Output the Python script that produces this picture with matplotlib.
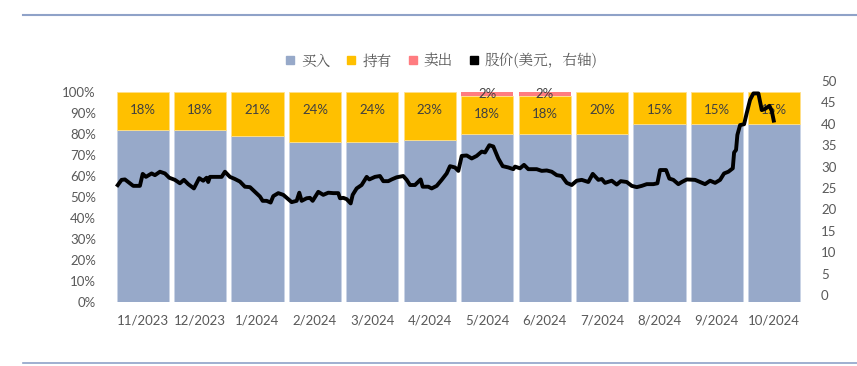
import matplotlib
matplotlib.use("Agg")
import matplotlib.pyplot as plt
from matplotlib.lines import Line2D
import numpy as np

# ---------------- data ----------------
months = ["11/2023", "12/2023", "1/2024", "2/2024", "3/2024", "4/2024",
          "5/2024", "6/2024", "7/2024", "8/2024", "9/2024", "10/2024"]
buy = [0.82, 0.82, 0.79, 0.76, 0.76, 0.77, 0.80, 0.80, 0.80, 0.85, 0.85, 0.85]
hold = [0.18, 0.18, 0.21, 0.24, 0.24, 0.23, 0.18, 0.18, 0.20, 0.15, 0.15, 0.15]
sell = [0.00, 0.00, 0.00, 0.00, 0.00, 0.00, 0.02, 0.02, 0.00, 0.00, 0.00, 0.00]

# price time position (in month units, 0 = centre of 11/2023) and price (USD)
price_t = [-0.455, -0.368, -0.31, -0.223, -0.165, -0.049, 0.0, 0.056, 0.155, 0.213,
           0.30, 0.387, 0.462, 0.561, 0.648, 0.718, 0.793, 0.892, 0.984, 1.054,
           1.113, 1.141, 1.171, 1.287, 1.375, 1.432, 1.519, 1.606, 1.693, 1.78,
           1.868, 1.955, 2.042, 2.089, 2.158, 2.228, 2.274, 2.361, 2.448, 2.535,
           2.594, 2.681, 2.727, 2.768, 2.855, 2.913, 2.96, 3.058, 3.145, 3.232,
           3.319, 3.406, 3.436, 3.493, 3.552, 3.622, 3.657, 3.726, 3.813, 3.901,
           3.946, 4.045, 4.132, 4.19, 4.277, 4.336, 4.423, 4.538, 4.598, 4.655,
           4.742, 4.841, 4.876, 4.974, 5.033, 5.12, 5.207, 5.294, 5.352, 5.439,
           5.497, 5.556, 5.643, 5.73, 5.817, 5.904, 5.962, 6.037, 6.106, 6.193,
           6.27, 6.367, 6.455, 6.484, 6.571, 6.641, 6.716, 6.862, 6.949, 7.037,
           7.124, 7.211, 7.298, 7.385, 7.472, 7.559, 7.646, 7.761, 7.838, 7.936,
           7.995, 8.052, 8.169, 8.256, 8.326, 8.43, 8.517, 8.605, 8.692, 8.779,
           8.894, 8.964, 9.01, 9.115, 9.172, 9.242, 9.329, 9.389, 9.476, 9.62,
           9.707, 9.794, 9.882, 9.969, 10.056, 10.125, 10.2, 10.277, 10.3, 10.334,
           10.357, 10.404, 10.474, 10.52, 10.578, 10.636, 10.723, 10.782, 10.84, 10.915,
           10.956, 10.997]
price = [25.3, 26.9, 27.0, 26.1, 25.5, 25.5, 28.3, 27.6, 28.4, 28.0,
         28.8, 28.4, 27.4, 26.9, 26.1, 26.9, 25.9, 24.9, 27.3, 26.7,
         27.4, 26.4, 27.6, 27.6, 27.6, 28.8, 27.6, 27.1, 26.5, 25.3,
         25.2, 24.1, 23.0, 22.0, 22.0, 21.6, 23.1, 23.8, 23.4, 22.4,
         21.7, 22.0, 23.9, 22.0, 22.6, 22.7, 22.0, 24.1, 23.4, 23.9,
         23.8, 23.8, 22.6, 22.7, 22.4, 21.4, 23.4, 24.9, 25.7, 27.6,
         27.0, 27.6, 27.8, 26.6, 26.6, 27.0, 27.5, 27.8, 26.9, 25.7,
         25.7, 27.0, 25.3, 25.3, 24.9, 25.5, 26.9, 28.4, 30.1, 29.8,
         29.0, 32.5, 32.6, 31.9, 32.5, 33.5, 33.3, 35.0, 34.7, 31.9,
         30.1, 29.8, 29.4, 30.0, 29.6, 30.4, 29.4, 29.4, 29.0, 29.1,
         28.8, 28.0, 27.8, 26.2, 25.7, 26.7, 26.9, 26.4, 28.3, 26.9,
         27.1, 26.2, 26.7, 25.8, 26.6, 26.4, 25.5, 25.2, 25.5, 25.9,
         25.9, 26.1, 29.2, 29.2, 27.2, 26.9, 25.9, 26.4, 27.0, 26.9,
         26.4, 25.9, 26.7, 26.2, 26.9, 28.4, 28.8, 29.6, 33.3, 33.9,
         37.4, 39.7, 39.9, 42.5, 45.6, 47.1, 47.1, 43.2, 43.5, 44.2,
         43.0, 40.3]

legend_labels = ["买入", "持有", "卖出", "股价(美元，右轴)"]
left_ticks = [0, 0.1, 0.2, 0.3, 0.4, 0.5, 0.6, 0.7, 0.8, 0.9, 1.0]
right_ticks = [0, 5, 10, 15, 20, 25, 30, 35, 40, 45, 50]

# ---------------- style ----------------
C_BUY = "#97A9C9"
C_HOLD = "#FFC000"
C_SELL = "#FF7C80"
C_TXT = "#595959"
C_LBL = "#404040"
C_RULE = "#8FA2C8"
FONT = ["Lato", "DejaVu Sans"]
CJK = ["Noto Serif CJK SC", "Noto Sans CJK SC", "DejaVu Sans"]

W, H = 857, 366
fig = plt.figure(figsize=(W / 100, H / 100), dpi=100)

x = np.arange(len(months))
ax = fig.add_axes([114 / W, 64 / H, 689 / W, 210 / H])
ax.bar(x, buy, width=0.91, color=C_BUY, edgecolor="#C9D3E6", linewidth=0.6, zorder=2)
ax.bar(x, hold, width=0.91, bottom=buy, color=C_HOLD, edgecolor="#FFE08A", linewidth=0.6, zorder=2)
sell_bottom = [b + h for b, h in zip(buy, hold)]
ax.bar(x, sell, width=0.91, bottom=sell_bottom, color=C_SELL, linewidth=0, zorder=2)

for i in range(len(months)):
    top = buy[i] + hold[i]
    ax.text(x[i], top - 0.085, f"{round(hold[i]*100)}%", ha="center", va="center",
            fontsize=9.5, color=C_LBL, family=FONT, zorder=3)
    if sell[i] > 0:
        ax.text(x[i], top + sell[i] / 2, f"{round(sell[i]*100)}%", ha="center", va="center",
                fontsize=9.5, color=C_LBL, family=FONT, zorder=3)

ax.set_xlim(-0.5, len(months) - 0.5)
ax.set_ylim(0, 1.0)
ax.set_yticks(left_ticks)
ax.set_yticklabels([f"{int(round(t*100))}%" for t in left_ticks])
ax.set_xticks(x)
ax.set_xticklabels(months)
for s in ax.spines.values():
    s.set_visible(False)
ax.tick_params(axis="both", length=0, colors=C_TXT, labelsize=9.5)
ax.tick_params(axis="y", pad=13)
ax.tick_params(axis="x", pad=9)
for lab in ax.get_xticklabels() + ax.get_yticklabels():
    lab.set_family(FONT)

# price axis (right)
ax2 = fig.add_axes([114 / W, 71 / H, 689 / W, 214 / H])
ax2.patch.set_alpha(0)
ax2.plot(price_t, price, color="black", lw=2.8, solid_joinstyle="round",
         solid_capstyle="butt", zorder=5, clip_on=False)
ax2.set_xlim(-0.5, len(months) - 0.5)
ax2.set_ylim(0, 50)
ax2.set_yticks(right_ticks)
ax2.yaxis.tick_right()
ax2.set_xticks([])
for s in ax2.spines.values():
    s.set_visible(False)
ax2.tick_params(axis="y", length=0, colors=C_TXT, labelsize=9.5, pad=13)
for lab in ax2.get_yticklabels():
    lab.set_family(FONT)
    lab.set_horizontalalignment("left")

# legend
handles = [Line2D([], [], marker="s", ls="", markersize=5.5, color=c)
           for c in (C_BUY, C_HOLD, C_SELL, "black")]
leg = fig.legend(handles, legend_labels, loc="center", bbox_to_anchor=(442 / W, 1 - 61 / H),
                 ncol=4, frameon=False, handlelength=0.5, handletextpad=0.5,
                 columnspacing=1.2, prop={"family": CJK, "size": 10.5})
for t in leg.get_texts():
    t.set_color(C_TXT)

# decorative rules
fig.add_artist(Line2D([23 / W, 1.0], [1 - 15 / H, 1 - 15 / H], color=C_RULE, lw=1.5,
                      transform=fig.transFigure))
fig.add_artist(Line2D([23 / W, 1.0], [1 - 363 / H, 1 - 363 / H], color=C_RULE, lw=1.2,
                      transform=fig.transFigure))

fig.savefig("out.png", dpi=100)
